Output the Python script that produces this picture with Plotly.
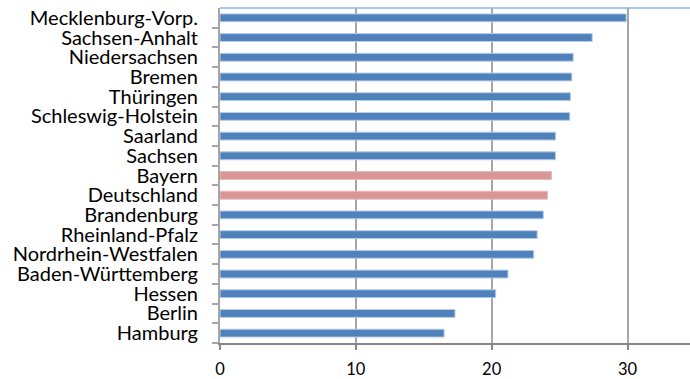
import plotly.graph_objects as go

# Federal states, ordered top to bottom
states = [
    "Mecklenburg-Vorp.", "Sachsen-Anhalt", "Niedersachsen", "Bremen",
    "Thüringen", "Schleswig-Holstein", "Saarland", "Sachsen", "Bayern",
    "Deutschland", "Brandenburg", "Rheinland-Pfalz", "Nordrhein-Westfalen",
    "Baden-Württemberg", "Hessen", "Berlin", "Hamburg",
]
values = [29.9, 27.4, 26.0, 25.9, 25.8, 25.75, 24.7, 24.7, 24.4,
          24.1, 23.8, 23.35, 23.1, 21.2, 20.3, 17.3, 16.5]
highlight = ["Bayern", "Deutschland"]
x_ticks = [0, 10, 20, 30]

BLUE = "#4f81bd"
PINK = "#d99694"
colors = [PINK if s in highlight else BLUE for s in states]
edges = ["#e6b9b8" if s in highlight else "#b9cde5" for s in states]

fig = go.Figure(go.Bar(
    x=values, y=states, orientation="h",
    marker=dict(color=colors, line=dict(color=edges, width=1)),
    width=0.4,
))

fig.update_layout(
    width=690, height=379,
    margin=dict(l=220, r=0, t=8, b=33),
    paper_bgcolor="white", plot_bgcolor="white",
    showlegend=False,
    font=dict(family="Lato, sans-serif", color="#000000"),
    xaxis=dict(
        range=[0, 34.6], tickvals=x_ticks, ticktext=[str(v) for v in x_ticks],
        showgrid=True, gridcolor="#a6a6a6", gridwidth=1.5,
        showline=True, linecolor="#868686", linewidth=2,
        ticks="outside", ticklen=5, tickcolor="#868686", tickwidth=1.5,
        tickfont=dict(size=16.5), zeroline=False, ticklabelstandoff=5,
    ),
    yaxis=dict(
        categoryorder="array", categoryarray=states[::-1],
        tickmode="array", tickvals=states, ticktext=states,
        showgrid=False, showline=True, linecolor="#a6a6a6", linewidth=2,
        ticks="outside", ticklen=6, tickcolor="#a6a6a6", tickwidth=1.5,
        tickson="boundaries", tickfont=dict(size=20), ticklabelstandoff=16,
    ),
    shapes=[dict(type="line", xref="paper", yref="paper", x0=0, x1=1, y0=1, y1=1,
                 line=dict(color="#8eb4e3", width=1.5))],
)

fig.write_html("out.html")
